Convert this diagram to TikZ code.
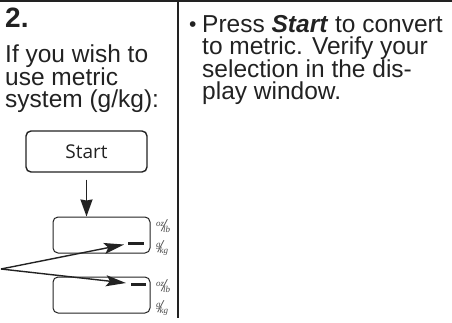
\documentclass[tikz,border=0pt]{standalone}
\usepackage{fontspec}
\setmainfont{Liberation Sans}
\newfontfamily\keyfont{Open Sans}
\newfontfamily\unitfont{Liberation Serif}
\usetikzlibrary{arrows.meta}
\definecolor{ink}{HTML}{222222}
\definecolor{unitgray}{HTML}{4A4A4A}
\newcommand{\myunitfrac}[2]{{\unitfont\itshape\color{unitgray}\raisebox{5pt}{\fontsize{9}{9}\selectfont #1}\kern-2.5pt{\fontsize{18}{18}\selectfont/}\kern-3.5pt\raisebox{-1.5pt}{\fontsize{9}{9}\selectfont #2}}}
\begin{document}
\begin{tikzpicture}[x=1pt,y=-1pt,
  txt/.style={anchor=base west, inner sep=0pt, font=\fontsize{24.5}{30}\selectfont, text=ink},
  keybox/.style={draw=ink, line width=1.4pt, rounded corners=5pt, minimum width=121pt, minimum height=41pt, inner sep=0pt, font=\keyfont\fontsize{19}{22}\selectfont, text=ink},
  disp/.style={draw=ink, line width=1pt, rounded corners=5pt, minimum width=97pt, minimum height=36pt, inner sep=0pt},
  seg/.style={line width=3pt, draw=ink},
  pointer/.style={draw=ink, line width=1.4pt, -{Stealth[length=20pt,width=11pt,inset=4pt]}},
  downarrow/.style={draw=ink, line width=1.6pt, -{Stealth[length=17pt,width=12pt,inset=1pt]}},
  unit/.style={inner sep=0pt, anchor=west}
]
\useasboundingbox (0,0) rectangle (452,322);
% frame lines
\draw[ink, line width=1.6pt] (0,1) -- (452,1);
\draw[ink, line width=1.2pt] (178,0) -- (178,318);
% left column text
\node[txt, font=\bfseries\fontsize{28}{30}\selectfont] (num) at (5,27) {2.};
\node[txt] (l1) at (5,62) {If you wish to};
\node[txt] (l2) at (5,85) {use metric};
\node[txt] (l3) at (5,107.5) {system (g/kg):};
% right column text
\node[txt, font=\fontsize{21}{24}\selectfont] (bul) at (189,31) {•};
\node[txt] (r1) at (202,32) {Press \textbf{\textit{Start}} to convert};
\node[txt] (r2) at (202,54.5) {to metric. Verify your};
\node[txt] (r3) at (202,77) {selection in the dis-};
\node[txt] (r4) at (202,99.5) {play window.};
% key and displays
\node[keybox] (start) at (86.5,151.5) {Start};
\node[disp] (disp1) at (101.5,235) {};
\node[disp] (disp2) at (101.5,295) {};
\draw[downarrow, shorten <=7pt] (start.south) -- (start.south |- disp1.north);
% dashes in the displays
\draw[seg] (128,243) -- (144,243);
\draw[seg] (131,284) -- (146,284);
% unit labels
\node[unit] (u1) at (156,226) {\myunitfrac{oz}{lb}};
\node[unit] (u2) at (156,248) {\myunitfrac{g}{kg}};
\node[unit] (u3) at (156,286) {\myunitfrac{oz}{lb}};
\node[unit] (u4) at (156,308) {\myunitfrac{g}{kg}};
% pointers
\coordinate (src) at (1,269);
\coordinate (t1) at (124,244.5);
\coordinate (t2) at (126,283);
\draw[pointer] (src) -- (t1);
\draw[pointer] (src) -- (t2);
\end{tikzpicture}
\end{document}
